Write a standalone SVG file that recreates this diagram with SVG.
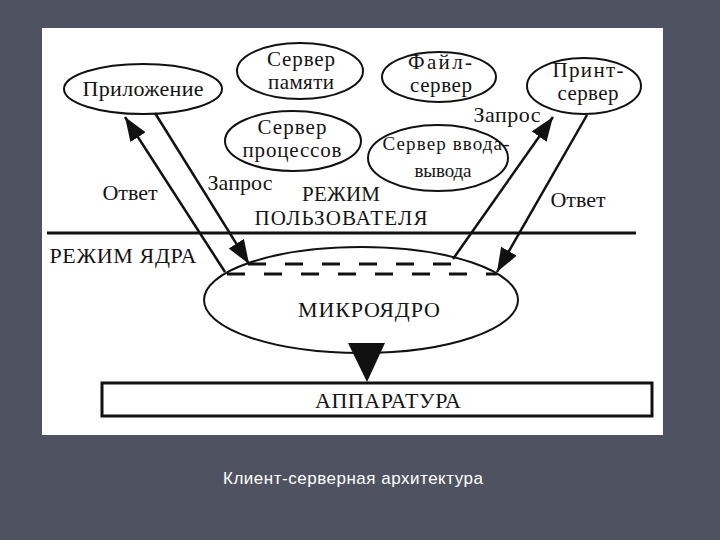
<svg xmlns="http://www.w3.org/2000/svg" width="720" height="540" viewBox="0 0 720 540">
<defs>
<style>
.t{font-family:"Liberation Serif","DejaVu Serif","Noto Serif",serif;fill:#141414;text-anchor:middle;font-size:22px}
.s{font-size:21px}
.n{fill:#fff;stroke:#111;stroke-width:2}
.c{stroke:#111;stroke-width:2.5;fill:none}
.d{stroke:#111;stroke-width:3;stroke-dasharray:18 19;fill:none}
</style>
<marker id="ah" markerUnits="userSpaceOnUse" markerWidth="26" markerHeight="20" refX="24" refY="9" orient="auto">
<path d="M0,0 L24,9 L0,18 z" fill="#111"/>
</marker>
</defs>
<rect width="720" height="540" fill="#4f5361"/>
<rect x="42" y="28" width="621" height="407" fill="#fff"/>

<g id="mode-line">
<line x1="47" y1="233" x2="636" y2="233" stroke="#111" stroke-width="3"/>
<text class="t s" x="341" y="201" textLength="78">РЕЖИМ</text>
<text class="t s" x="341" y="225" textLength="173">ПОЛЬЗОВАТЕЛЯ</text>
<text class="t" x="123" y="263" textLength="147">РЕЖИМ ЯДРА</text>
</g>

<g id="app">
<ellipse class="n" cx="143" cy="89" rx="79" ry="25"/>
<text class="t" x="143" y="96" textLength="121">Приложение</text>
</g>
<g id="mem-server">
<ellipse class="n" cx="300" cy="71" rx="63" ry="28"/>
<text class="t s" x="301" y="66" textLength="68">Сервер</text>
<text class="t s" x="301" y="89" textLength="66">памяти</text>
</g>
<g id="proc-server">
<ellipse class="n" cx="293" cy="141" rx="68" ry="30"/>
<text class="t s" x="292" y="134" textLength="69">Сервер</text>
<text class="t s" x="292" y="157" textLength="99">процессов</text>
</g>
<g id="file-server">
<ellipse class="n" cx="439" cy="77" rx="57" ry="25"/>
<text class="t s" x="440" y="69" textLength="64">Файл-</text>
<text class="t s" x="441" y="92" textLength="62">сервер</text>
</g>
<g id="print-server">
<ellipse class="n" cx="584" cy="86" rx="57" ry="28"/>
<text class="t s" x="588" y="77" textLength="71">Принт-</text>
<text class="t s" x="588" y="100" textLength="61">сервер</text>
</g>
<g id="io-server">
<ellipse class="n" cx="438" cy="158" rx="70" ry="33"/>
<text class="t" x="446" y="150" style="font-size:19px" textLength="127">Сервер ввода-</text>
<text class="t" x="443" y="177" style="font-size:19px" textLength="57">вывода</text>
</g>

<g id="microkernel">
<ellipse class="n" cx="361" cy="300" rx="157" ry="53"/>
<line class="d" x1="248" y1="264" x2="458" y2="264"/>
<line class="d" x1="227" y1="274" x2="497" y2="274"/>
<text class="t" x="369" y="317" textLength="142">МИКРОЯДРО</text>
</g>

<g id="hardware">
<rect x="102" y="383" width="550" height="33" fill="#fff" stroke="#111" stroke-width="3"/>
<text class="t" x="388" y="408" textLength="146">АППАРАТУРА</text>
</g>

<g id="connectors">
<line class="c" x1="225" y1="272" x2="125" y2="117" marker-end="url(#ah)"/>
<line class="c" x1="155" y1="113" x2="249" y2="264" marker-end="url(#ah)"/>
<line class="c" x1="453" y1="259" x2="553" y2="117" marker-end="url(#ah)"/>
<line class="c" x1="587" y1="115" x2="497" y2="272" marker-end="url(#ah)"/>
<polygon points="348,343 385,343 367,382" fill="#111"/>
<text class="t" x="130" y="200" textLength="55">Ответ</text>
<text class="t" x="240" y="190" textLength="65">Запрос</text>
<text class="t" x="507" y="122" textLength="67">Запрос</text>
<text class="t" x="578" y="207" textLength="55">Ответ</text>
</g>

<text x="223" y="484" font-family="Liberation Sans, Arial, sans-serif" font-size="17" fill="#fff" textLength="260">Клиент-серверная архитектура</text>
</svg>
